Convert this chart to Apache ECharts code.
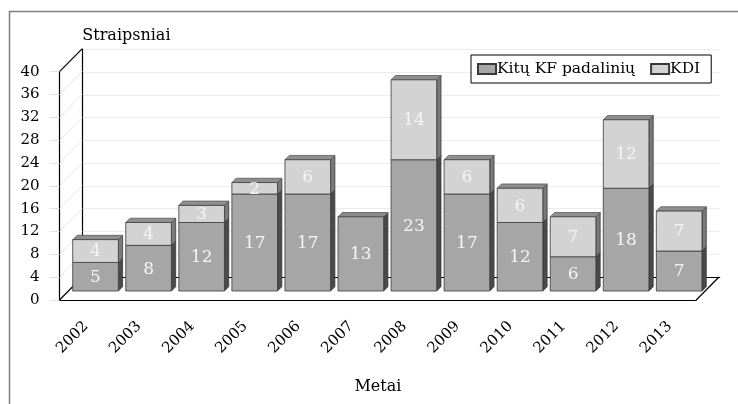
<!DOCTYPE html>
<html>
<head>
<meta charset="utf-8">
<script src="https://cdn.jsdelivr.net/npm/echarts@6/dist/echarts.min.js"></script>
<style>
html,body{margin:0;padding:0;background:#fff;}
#chart{width:738px;height:404px;}
</style>
</head>
<body>
<div id="chart"></div>
<script>
// ---- data ----
const years = ['2002','2003','2004','2005','2006','2007','2008','2009','2010','2011','2012','2013'];
const kituKF = [5, 8, 12, 17, 17, 13, 23, 17, 12, 6, 18, 7];
const kdi    = [4, 4, 3, 2, 6, 0, 14, 6, 6, 7, 12, 7];
const yTicks = [0, 4, 8, 12, 16, 20, 24, 28, 32, 36, 40];
const seriesNames = ['Kitų KF padalinių', 'KDI'];
const yName = 'Straipsniai';
const xName = 'Metai';

// ---- style constants ----
const FONT = 'DejaVu Serif';
const DEPTH_DX = 22.8, DEPTH_DY = -23;   // full floor depth
const BAR_DX = 9.5, BAR_DY = -9;         // bar plane offset
const BAR_D = 4.3;                       // bar own depth
const BAR_RATIO = 0.86;

const chart = echarts.init(document.getElementById('chart'), null, {renderer: 'canvas'});

function barRenderer(faceColor, topColor, sideColor, drawTopAlways) {
  return function (params, api) {
    const cat = api.value(0), base = api.value(1), val = api.value(2), other = api.value(3);
    if (!val) return;
    const pb = api.coord([cat, base]);
    const pt = api.coord([cat, base + val]);
    const w = api.size([1, 0])[0] * BAR_RATIO;
    const x0 = pb[0] - w / 2 + BAR_DX, x1 = pb[0] + w / 2 + BAR_DX;
    const yb = pb[1] + BAR_DY, yt = pt[1] + BAR_DY;
    const d = BAR_D;
    const children = [];
    children.push({type: 'polygon', shape: {points: [[x1, yt], [x1 + d, yt - d], [x1 + d, yb - d], [x1, yb]]},
      style: {fill: sideColor, stroke: '#3a3a3a', lineWidth: 0.8}});
    if (drawTopAlways || !other) {
      children.push({type: 'polygon', shape: {points: [[x0, yt], [x1, yt], [x1 + d, yt - d], [x0 + d, yt - d]]},
        style: {fill: topColor, stroke: '#5a5a5a', lineWidth: 0.8}});
    }
    children.push({type: 'rect', shape: {x: x0, y: yt, width: x1 - x0, height: yb - yt},
      style: {fill: faceColor, stroke: '#3a3a3a', lineWidth: 0.8}});
    children.push({type: 'text', style: {text: String(val), x: (x0 + x1) / 2, y: (yt + yb) / 2 + 1,
      align: 'center', verticalAlign: 'middle', fill: '#f4f4f4', font: '17px "' + FONT + '"'}});
    return {type: 'group', children: children};
  };
}

function frameRenderer(params, api) {
  const children = [];
  const halfBand = api.size([1, 0])[0] / 2;
  const last = years.length - 1;
  yTicks.forEach(function (v) {
    const p = api.coord([0, v]);
    const xl = p[0] - halfBand;
    const isEdge = (v === yTicks[0] || v === yTicks[yTicks.length - 1]);
    children.push({type: 'line', shape: {x1: xl, y1: p[1], x2: xl + DEPTH_DX, y2: p[1] + DEPTH_DY},
      style: {stroke: isEdge ? '#000' : '#e6e6e6', lineWidth: isEdge ? 1.2 : 1}, z2: isEdge ? 10 : 1});
  });
  const pr = api.coord([last, 0]);
  const xr = pr[0] + halfBand;
  children.push({type: 'line', shape: {x1: xr, y1: pr[1], x2: xr + DEPTH_DX, y2: pr[1] + DEPTH_DY},
    style: {stroke: '#000', lineWidth: 1.2}});
  return {type: 'group', children: children};
}

const kituData = years.map(function (y, i) { return [i, 0, kituKF[i], kdi[i]]; });
const kdiData = years.map(function (y, i) { return [i, kituKF[i], kdi[i], 1]; });

const option = {
  animation: false,
  backgroundColor: '#fff',
  textStyle: {fontFamily: FONT},
  graphic: [{
    type: 'rect', left: 7, top: 9, silent: true,
    shape: {width: 800, height: 500},
    style: {fill: 'none', stroke: '#7f7f7f', lineWidth: 1.5}
  }],
  legend: {
    left: 471, top: 55,
    orient: 'horizontal',
    data: seriesNames,
    icon: 'rect',
    itemWidth: 18, itemHeight: 10, itemGap: 15,
    padding: [6, 11, 6, 6],
    borderColor: '#000', borderWidth: 1,
    backgroundColor: '#fff',
    textStyle: {fontFamily: FONT, fontSize: 15.5, color: '#000', padding: [0, 0, 0, -4]}
  },
  grid: [
    {left: 59.5, right: 41.8, top: 71.7, bottom: 104},
    {left: 82.3, right: 18.3, top: 49.3, bottom: 127}
  ],
  xAxis: [{
    gridIndex: 0, type: 'category', data: years,
    axisLine: {lineStyle: {color: '#000', width: 1.2}},
    axisTick: {alignWithLabel: true, length: 10, lineStyle: {color: '#d9d9d9'}},
    axisLabel: {rotate: 45, fontSize: 15, color: '#000', margin: 24, fontFamily: FONT},
    name: xName, nameLocation: 'middle', nameGap: 79,
    nameTextStyle: {fontSize: 16, color: '#000', fontFamily: FONT},
    z: 5
  }, {
    gridIndex: 1, type: 'category', data: years,
    axisLine: {lineStyle: {color: '#000', width: 1.2}},
    axisTick: {show: false}, axisLabel: {show: false}
  }],
  yAxis: [{
    gridIndex: 0, type: 'value', min: 0, max: 40, interval: 4,
    axisLine: {show: true, lineStyle: {color: '#000', width: 1.2}},
    axisTick: {show: true, length: 10, lineStyle: {color: '#e0e0e0'}},
    axisLabel: {fontSize: 15, color: '#000', margin: 20, fontFamily: FONT},
    splitLine: {show: false},
    z: 5
  }, {
    gridIndex: 1, type: 'value', min: 0, max: 40, interval: 4,
    axisLine: {show: true, lineStyle: {color: '#000', width: 1.2}},
    axisTick: {show: false}, axisLabel: {show: false},
    splitLine: {show: true, lineStyle: {color: '#ececec', width: 1}},
    name: yName, nameLocation: 'end', nameGap: 5,
    nameTextStyle: {fontSize: 16, color: '#000', align: 'left', verticalAlign: 'bottom', fontFamily: FONT}
  }],
  series: [{
    type: 'custom', name: 'frame', xAxisIndex: 0, yAxisIndex: 0, silent: true,
    data: [[0, 0]], renderItem: frameRenderer, z: 1
  }, {
    type: 'custom', name: seriesNames[0], xAxisIndex: 0, yAxisIndex: 0,
    data: kituData, encode: {x: 0, y: [1, 2]},
    itemStyle: {color: '#a6a6a6', borderColor: '#3a3a3a', borderWidth: 1},
    renderItem: barRenderer('#a6a6a6', '#8a8a8a', '#4a4a4a', false), z: 3
  }, {
    type: 'custom', name: seriesNames[1], xAxisIndex: 0, yAxisIndex: 0,
    data: kdiData, encode: {x: 0, y: [1, 2]},
    itemStyle: {color: '#d3d3d3', borderColor: '#3a3a3a', borderWidth: 1},
    renderItem: barRenderer('#d3d3d3', '#8f8f8f', '#7a7a7a', true), z: 4
  }]
};
chart.setOption(option);
</script>
</body>
</html>
